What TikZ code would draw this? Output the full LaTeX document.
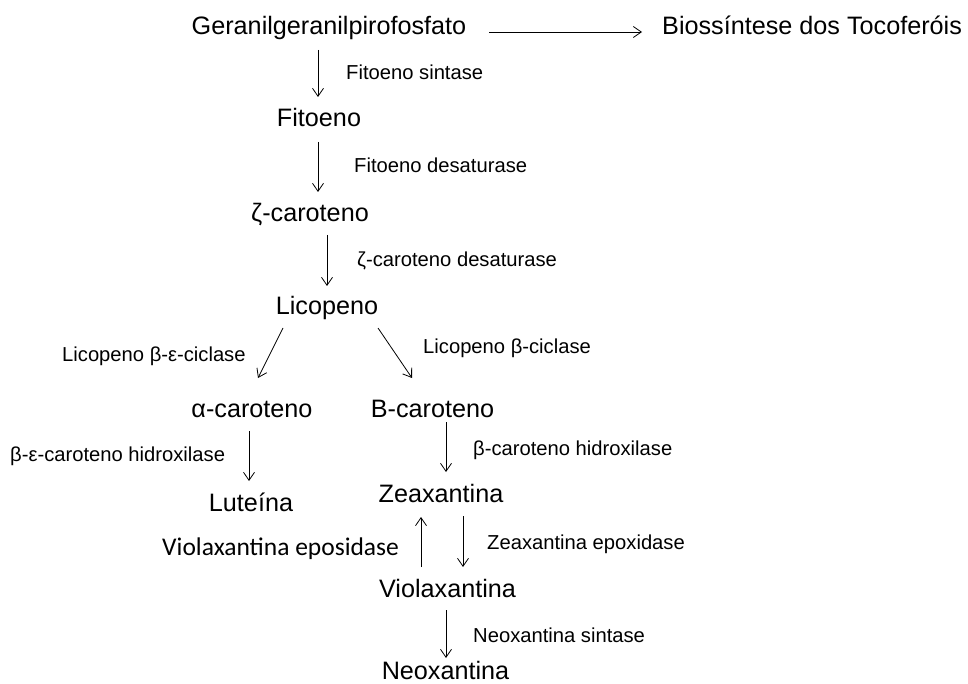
\documentclass[tikz,border=0pt]{standalone}
\usepackage{fontspec}
\setmainfont{Liberation Sans}
\newfontfamily\calib{Carlito}
\usetikzlibrary{arrows.meta}
\begin{document}
\begin{tikzpicture}[x=1pt,y=-1pt,
  big/.style={inner sep=0pt,anchor=base,font=\fontsize{25.2}{29}\selectfont},
  lbl/.style={inner sep=0pt,anchor=base west,font=\fontsize{20.2}{24}\selectfont},
  arr/.style={line width=0.8pt,-{Straight Barb[length=8pt,width=11pt,line width=0.8pt]}}]
\useasboundingbox (0,0) rectangle (968,684);
% compounds
\node[big] (ger) at (329,35) {Geranilgeranilpirofosfato};
\node[big,anchor=base west] (bio) at (662,35) {Biossíntese dos Tocoferóis};
\node[big] (fit) at (319,127) {Fitoeno};
\node[big] (zca) at (310,222) {ζ-caroteno};
\node[big] (lic) at (327,315) {Licopeno};
\node[big] (aca) at (252,417) {α-caroteno};
\node[big] (bca) at (432.5,417) {B-caroteno};
\node[big] (lut) at (251,511) {Luteína};
\node[big] (zea) at (441,502) {Zeaxantina};
\node[big] (vio) at (447.5,597) {Violaxantina};
\node[big] (neo) at (445.5,679) {Neoxantina};
% enzyme labels
\node[lbl] (l1) at (346,80) {Fitoeno sintase};
\node[lbl] (l2) at (354,173) {Fitoeno desaturase};
\node[lbl] (l3) at (357,267) {ζ-caroteno desaturase};
\node[lbl] (l4) at (62,361) {Licopeno β-ε-ciclase};
\node[lbl] (l5) at (423,353) {Licopeno β-ciclase};
\node[lbl] (l6) at (10,461) {β-ε-caroteno hidroxilase};
\node[lbl] (l7) at (473,455) {β-caroteno hidroxilase};
\node[inner sep=0pt,anchor=base west,font=\calib\fontsize{25.5}{30}\selectfont] (l8) at (162,555) {Violaxantina eposidase};
\node[lbl] (l9) at (487,549) {Zeaxantina epoxidase};
\node[lbl] (l10) at (473,642) {Neoxantina sintase};
% arrow end points
\coordinate (h1) at (489,32); \coordinate (h2) at (642,32);
\coordinate (a1) at (318,50); \coordinate (b1) at (318,97);
\coordinate (a2) at (318,142); \coordinate (b2) at (318,192);
\coordinate (a3) at (327,235); \coordinate (b3) at (327,286);
\coordinate (a4) at (283,328); \coordinate (b4) at (258,378);
\coordinate (a5) at (378,328); \coordinate (b5) at (412,378);
\coordinate (a6) at (249,431); \coordinate (b6) at (249,481);
\coordinate (a7) at (446,422); \coordinate (b7) at (446,472);
\coordinate (a8) at (421,567); \coordinate (b8) at (421,517);
\coordinate (a9) at (463,516); \coordinate (b9) at (463,567);
\coordinate (a10) at (446,610); \coordinate (b10) at (446,658);
\foreach \s/\e in {h1/h2,a1/b1,a2/b2,a3/b3,a4/b4,a5/b5,a6/b6,a7/b7,a8/b8,a9/b9,a10/b10}
  \draw[arr] (\s) -- (\e);
\end{tikzpicture}
\end{document}
